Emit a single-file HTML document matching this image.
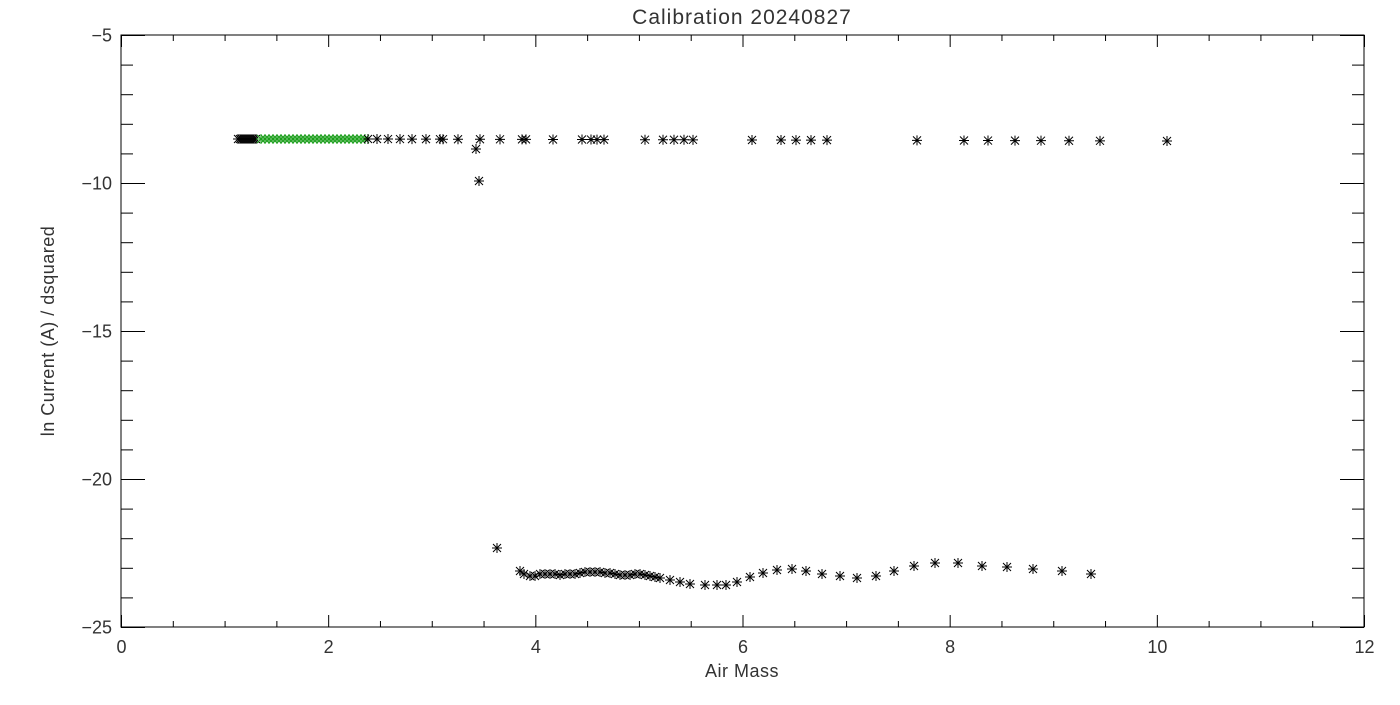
<!DOCTYPE html>
<html><head><meta charset="utf-8"><style>
html,body{margin:0;padding:0;background:#fff;}
svg text{font-family:"Liberation Sans",sans-serif;fill:#333;}
</style></head><body>
<svg id="s" width="1400" height="700" xmlns="http://www.w3.org/2000/svg">
<defs>
<g id="a"><path d="M-5,0H5M0,-5V5M-4,-4L4,4M-4,4L4,-4" stroke-width="1" fill="none"/></g>
</defs>
<rect x="121" y="35" width="1243" height="592" fill="none" stroke="#000" stroke-width="1"/>
<g id="ticks" stroke="#000" stroke-width="1"></g>
<g id="pts"></g>
<text x="742" y="24" font-size="21" text-anchor="middle" letter-spacing="1">Calibration 20240827</text>
<text x="742" y="677" font-size="18" text-anchor="middle" letter-spacing="0.5">Air Mass</text>
<text transform="translate(54,331) rotate(-90)" font-size="18" text-anchor="middle" letter-spacing="0.5">ln Current (A) / dsquared</text>
<g id="lbl" font-size="18"></g>
</svg>
<script>
var NS="http://www.w3.org/2000/svg";
function el(p,t,a,txt){var e=document.createElementNS(NS,t);for(var k in a)e.setAttribute(k,a[k]);if(txt!=null)e.textContent=txt;p.appendChild(e);return e;}
var T=document.getElementById('ticks'),L=document.getElementById('lbl'),P=document.getElementById('pts');
var x0=121,x1=1364,y0=35,y1=627;
for(var i=0;i<=24;i++){var x=x0+(x1-x0)*i/24+0.5,len=i%4==0?12:6;
el(T,'line',{x1:x,y1:y1,x2:x,y2:y1-len});el(T,'line',{x1:x,y1:y0,x2:x,y2:y0+len});
if(i%4==0)el(L,'text',{x:x,y:653,'text-anchor':'middle'},String(i/2));}
for(var j=0;j<=20;j++){var y=y0+(y1-y0)*j/20+0.5,len=j%5==0?24:12;
el(T,'line',{x1:x0,y1:y,x2:x0+len,y2:y});el(T,'line',{x1:x1,y1:y,x2:x1-len,y2:y});
if(j%5==0)el(L,'text',{x:112,y:y+6,'text-anchor':'end'},"\u2212"+(5+j));}
function pt(x,y,c){el(P,'use',{href:'#a',x:x,y:y,stroke:c});}
for(var x=238;x<=257;x+=2)pt(x,139,'#000');
for(var x=261;x<=365;x+=4)pt(x,139,'#1a9e1a');
[368,377,388,400,412,426,440,443,458,480,500,522,526,553,582,591,597,604,645,663,674,684,693,752,781,796,811,827,917,964,988,1015,1041,1069,1100,1167].forEach(function(x){pt(x,139+(x-368)/400,'#000');});
pt(476,149,'#000');pt(479,181,'#000');
[[497,548],[520,571],[524,574],[530,576],[535,576],[540,574],[545,574],[550,574],[555,574],[560,575],[565,574],[570,574],[575,574],[580,573],[585,572],[590,572],[595,572],[600,572],[605,573],[610,573],[615,574],[620,575],[625,575],[630,575],[635,574],[640,574],[645,575],[650,576],[655,577],[660,578],[670,580],[680,582],[690,584],[705,585],[717,585],[726,585],[737,582],[750,577],[763,573],[777,570],[792,569],[806,571],[822,574],[840,576],[857,578],[876,576],[894,571],[914,566],[935,563],[958,563],[982,566],[1007,567],[1033,569],[1062,571],[1091,574]].forEach(function(p){pt(p[0],p[1],'#000');});
</script>
</body></html>
